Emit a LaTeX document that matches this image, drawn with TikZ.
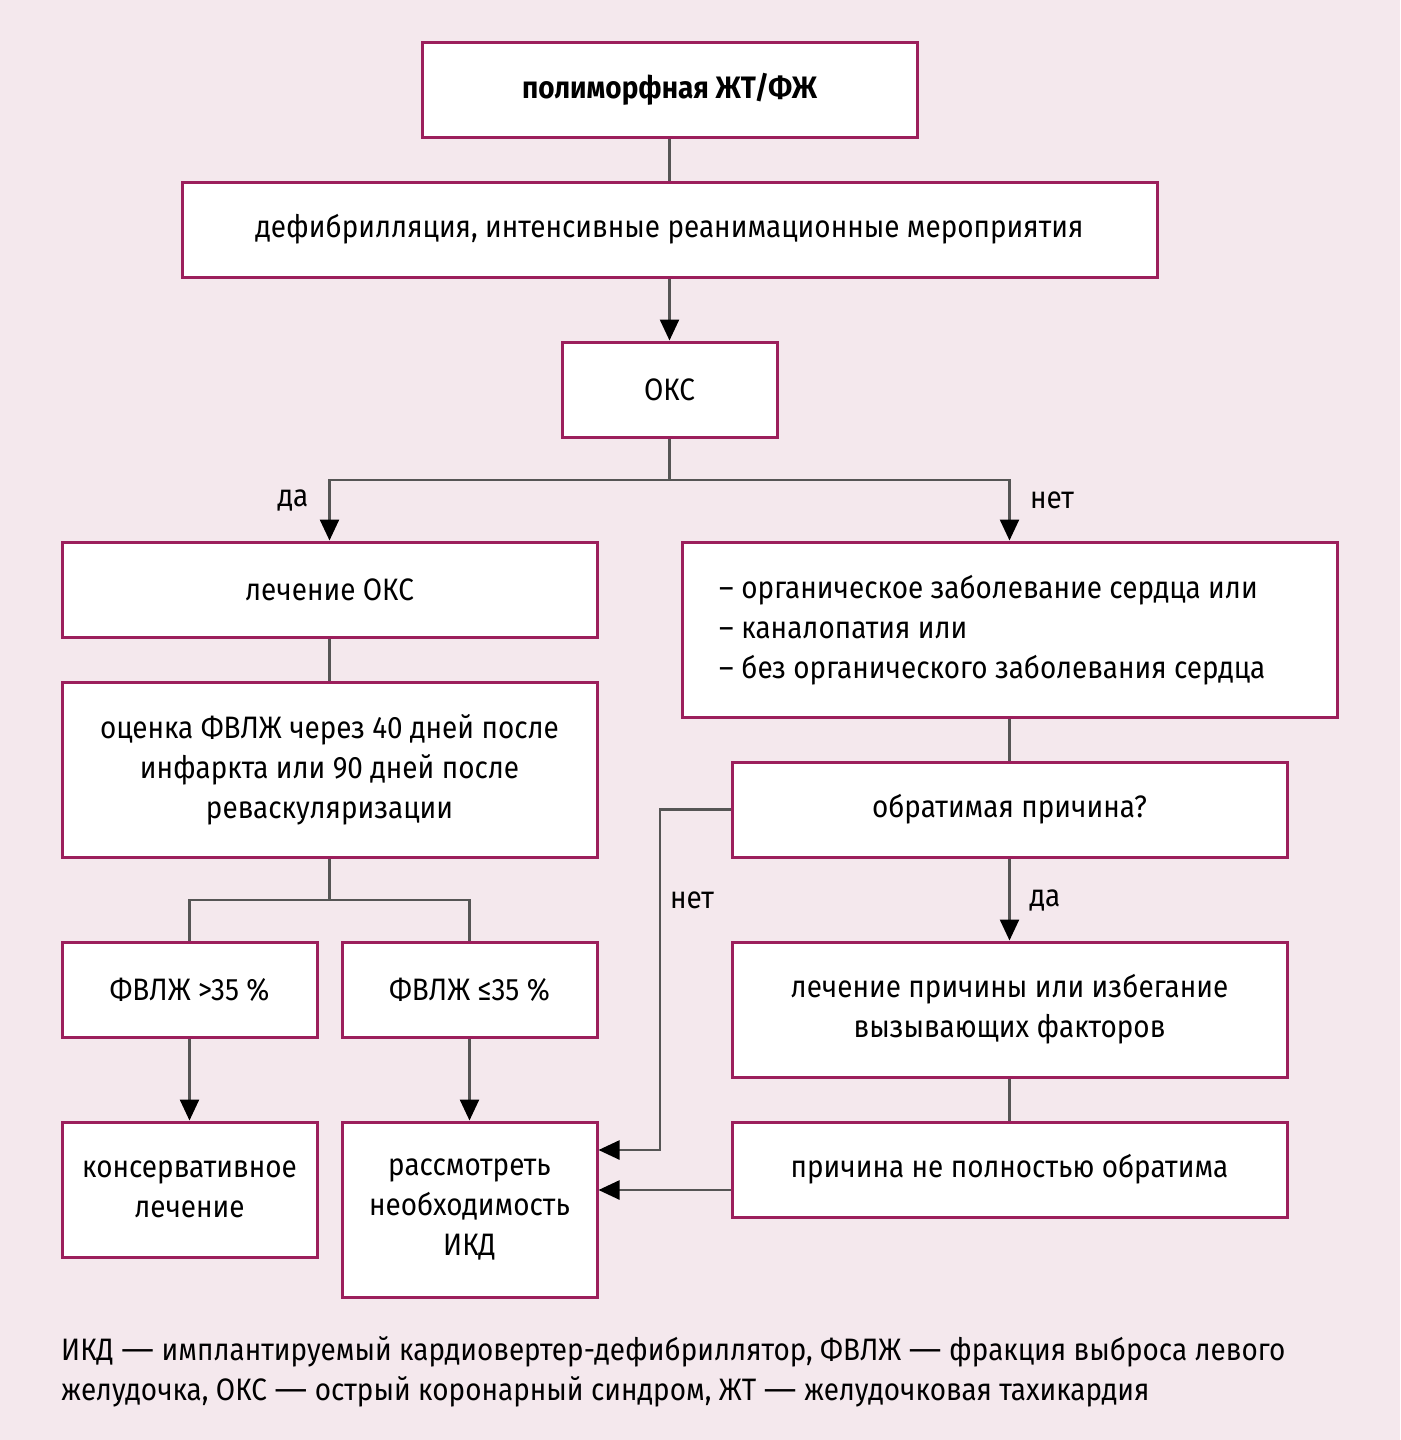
\documentclass[tikz,border=0pt]{standalone}
\usepackage{fontspec}
\setmainfont{Fira Sans}[FakeStretch=0.9]
\usetikzlibrary{arrows.meta}
\definecolor{bg}{HTML}{F4E8ED}
\definecolor{frame}{HTML}{9C1F5C}
\definecolor{conn}{HTML}{555555}
\newcommand{\wdash}{\scalebox{1.5}[1]{—}}
\tikzset{
  box/.style={draw=frame, line width=3pt, fill=white, align=center, inner sep=0pt,
    font=\fontsize{31}{40}\selectfont},
  conline/.style={draw=conn, line width=2.5pt},
  arr/.style={conline, -{Triangle[length=21pt,width=19pt,fill=black,color=black]}},
  lbl/.style={font=\fontsize{31}{40}\selectfont, inner sep=0pt}
}
\begin{document}
\begin{tikzpicture}[x=1pt,y=-1pt]
\useasboundingbox (0,0) rectangle (1400,1440);
\fill[bg] (0,0) rectangle (1400,1440);

\node[box, minimum width=495pt, minimum height=95pt] (B1) at (669.5,89.5) {\bfseries полиморфная ЖТ/ФЖ};
\node[box, minimum width=975pt, minimum height=95pt] (B2) at (669.5,229.5) {дефибрилляция, интенсивные реанимационные мероприятия};
\node[box, minimum width=215pt, minimum height=95pt] (B3) at (669.5,389.5) {ОКС};
\node[box, minimum width=535pt, minimum height=95pt] (B4) at (329.5,589.5) {лечение ОКС};
\node[box, minimum width=655pt, minimum height=175pt] (B5) at (1009.5,629.5) {};
\node[lbl, anchor=west, align=left] (B5t) at (719,630.5) {–\hspace{0.25em}органическое заболевание сердца или\\–\hspace{0.25em}каналопатия или\\–\hspace{0.25em}без органического заболевания сердца};
\node[box, minimum width=535pt, minimum height=175pt] (B6) at (329.5,769.5) {оценка ФВЛЖ через 40 дней после\\инфаркта или 90 дней после\\реваскуляризации};
\node[box, minimum width=555pt, minimum height=95pt] (B7) at (1009.5,809.5) {обратимая причина?};
\node[box, minimum width=555pt, minimum height=135pt] (B8) at (1009.5,1009.5) {лечение причины или избегание\\вызывающих факторов};
\node[box, minimum width=555pt, minimum height=95pt] (B9) at (1009.5,1169.5) {причина не полностью обратима};
\node[box, minimum width=255pt, minimum height=95pt] (B10) at (189.5,989.5) {ФВЛЖ >35 \%};
\node[box, minimum width=255pt, minimum height=95pt] (B11) at (469.5,989.5) {ФВЛЖ ≤35 \%};
\node[box, minimum width=255pt, minimum height=135pt] (B12) at (189.5,1189.5) {консервативное\\лечение};
\node[box, minimum width=255pt, minimum height=175pt] (B13) at (469.5,1209.5) {рассмотреть\\необходимость\\ИКД};

% connectors
\draw[conline] (B1.south) -- (B2.north);
\draw[arr] (B2.south) -- (B3.north);
\coordinate (j1) at (669.5,480);
\draw[conline] (B3.south) -- (j1);
\draw[arr] (j1) -| (B4.north);
\draw[arr] (j1) -| (B5.north);
\draw[conline] (B4.south) -- (B6.north);
\coordinate (j2) at (329.5,900);
\draw[conline] (B6.south) -- (j2);
\draw[conline] (j2) -| (B10.north);
\draw[conline] (j2) -| (B11.north);
\draw[arr] (B10.south) -- (B12.north);
\draw[arr] (B11.south) -- (B13.north);
\draw[conline] (B5.south) -- (B7.north);
\draw[arr] (B7.south) -- (B8.north);
\draw[conline] (B8.south) -- (B9.north);
\coordinate (c1) at (660,1150);
\draw[arr] (B7.west) -| (c1) -- (c1 -| B13.east);
\coordinate (c2) at ([yshift=-20.5pt]B9.west);
\draw[arr] (c2) -- (c2 -| B13.east);

% labels
\node[lbl] (L1) at (293,500) {да};
\node[lbl] (L2) at (1052,500) {нет};
\node[lbl] (L3) at (692,900) {нет};
\node[lbl] (L4) at (1045,900) {да};

% footer
\node[lbl, anchor=north west, align=left] (F) at (61,1336) {ИКД \wdash{} имплантируемый кардиовертер-дефибриллятор, ФВЛЖ \wdash{} фракция выброса левого\\желудочка, ОКС \wdash{} острый коронарный синдром, ЖТ \wdash{} желудочковая тахикардия};
\end{tikzpicture}
\end{document}
